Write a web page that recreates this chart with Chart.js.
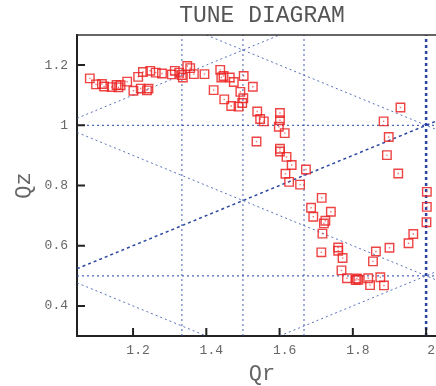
<!DOCTYPE html>
<html>
<head>
<meta charset="utf-8">
<script src="https://cdn.jsdelivr.net/npm/chart.js@4.4.1/dist/chart.umd.min.js"></script>
<style>
  html, body { margin: 0; padding: 0; background: #fff; overflow: hidden; }
  #wrap { width: 436px; height: 386px; }
</style>
</head>
<body>
<div id="wrap"><canvas id="tune"></canvas></div>
<script>
const qr = [1.082, 1.099, 1.115, 1.121, 1.142, 1.155, 1.160, 1.166, 1.184, 1.201,
            1.214, 1.221, 1.227, 1.238, 1.242, 1.247, 1.262, 1.279, 1.306, 1.314,
            1.326, 1.333, 1.336, 1.348, 1.356, 1.366, 1.395, 1.420, 1.438, 1.441,
            1.447, 1.449, 1.464, 1.468, 1.475, 1.488, 1.493, 1.498, 1.501, 1.502,
            1.527, 1.539, 1.547, 1.557, 1.601, 1.601, 1.598, 1.614, 1.537, 1.601,
            1.601, 1.619, 1.633, 1.616, 1.626, 1.672, 1.656, 1.884, 1.930, 1.898,
            1.893, 1.924, 1.715, 1.686, 1.692, 1.740, 1.725, 1.721, 1.717, 2.002,
            2.002, 2.001, 1.965, 1.952, 1.900, 1.863, 1.855, 1.714, 1.760, 1.760,
            1.772, 1.769, 1.784, 1.811, 1.815, 1.808, 1.842, 1.847, 1.875, 1.885];
const qz = [1.156, 1.136, 1.137, 1.129, 1.127, 1.134, 1.126, 1.133, 1.145, 1.115,
            1.161, 1.122, 1.177, 1.116, 1.122, 1.181, 1.175, 1.172, 1.169, 1.181,
            1.175, 1.167, 1.159, 1.197, 1.190, 1.170, 1.170, 1.117, 1.184, 1.159,
            1.164, 1.086, 1.159, 1.064, 1.144, 1.062, 1.111, 1.074, 1.090, 1.164,
            1.128, 1.046, 1.021, 1.013, 1.041, 1.017, 0.995, 0.974, 0.946, 0.922,
            0.913, 0.895, 0.868, 0.839, 0.812, 0.853, 0.803, 1.013, 1.059, 0.961,
            0.901, 0.840, 0.759, 0.726, 0.696, 0.713, 0.683, 0.674, 0.640, 0.779,
            0.729, 0.678, 0.639, 0.608, 0.593, 0.581, 0.548, 0.578, 0.594, 0.583,
            0.559, 0.518, 0.492, 0.491, 0.487, 0.486, 0.492, 0.469, 0.495, 0.468];

// resonance lines: end points [from, to]
const resQr = [[4/3, 4/3], [1.5, 1.5], [5/3, 5/3], [2, 2],
               [1.047, 2.03], [1.047, 2.03],
               [1.047, 2.03], [1.047, 2.03], [1.047, 1.6], [1.4, 2.03],
               [1.047, 1.4], [1.6, 2.03]];
const resQz = [[0.3, 1.3], [0.3, 1.3], [0.3, 1.3], [0.3, 1.3],
               [1.0, 1.0], [0.5, 0.5],
               [0.5235, 1.015], [0.9765, 0.485], [1.0235, 1.3], [1.3, 0.985],
               [0.4765, 0.3], [0.3, 0.515]];

const qrTicks = [1.2, 1.4, 1.6, 1.8, 2];
const qzTicks = [0.4, 0.6, 0.8, 1, 1.2];
const qrRange = [1.047, 2.027];
const qzRange = [0.3, 1.3];

const MONO = '"Liberation Mono", "DejaVu Sans Mono", monospace';

function lineStyle(i) {
  if (i === 3) return { color: '#2a44a0', width: 2.5, dash: [3, 3] };
  if (i < 3) return { color: 'rgba(45,75,170,0.9)', width: 1, dash: [2, 3] };
  if (i < 6) return { color: 'rgba(45,75,170,0.85)', width: 1.2, dash: [2, 3] };
  if (i === 6) return { color: '#2c48a0', width: 1.5, dash: [3, 3] };
  return { color: 'rgba(60,90,175,0.85)', width: 1, dash: [2, 3] };
}

const datasets = [];
datasets.push({
  data: qr.map((v, i) => ({ x: v, y: qz[i] })),
  pointStyle: 'rect', pointRadius: 6, pointBorderWidth: 1.4,
  pointBorderColor: 'rgba(235,35,35,0.85)', pointBackgroundColor: 'rgba(0,0,0,0)',
  showLine: false, order: 0
});
datasets.push({
  data: qr.map((v, i) => ({ x: v, y: qz[i] })),
  pointStyle: 'rect', pointRadius: 1, pointBorderWidth: 0,
  pointBackgroundColor: 'rgba(230,60,60,0.7)', showLine: false, order: 0
});
resQr.forEach((xs, i) => {
  const s = lineStyle(i);
  datasets.push({
    data: [{ x: xs[0], y: resQz[i][0] }, { x: xs[1], y: resQz[i][1] }],
    showLine: true, pointRadius: 0, borderColor: s.color, borderWidth: s.width,
    borderDash: s.dash, fill: false, order: 1
  });
});

// title, x title, top frame line and inward tick marks
const framePlugin = {
  id: 'frame',
  afterDraw(chart) {
    const { ctx, chartArea: a, scales: { x, y } } = chart;
    const cx = a.left + 185;
    ctx.save();
    ctx.fillStyle = '#555';
    ctx.textAlign = 'center';
    ctx.textBaseline = 'middle';
    ctx.font = '23px ' + MONO;
    ctx.fillText('TUNE DIAGRAM', cx, 16);
    ctx.fillStyle = '#666';
    ctx.font = '22px ' + MONO;
    ctx.fillText('Qr', cx, 374);

    ctx.strokeStyle = '#333';
    ctx.lineWidth = 1.5;
    ctx.beginPath();
    ctx.moveTo(a.left, a.top);
    ctx.lineTo(a.right, a.top);
    ctx.stroke();

    ctx.strokeStyle = '#222';
    ctx.lineWidth = 2;
    ctx.beginPath();
    x.ticks.forEach(t => {
      const px = x.getPixelForValue(t.value);
      ctx.moveTo(px, a.bottom); ctx.lineTo(px, a.bottom - 8);
    });
    y.ticks.forEach(t => {
      const py = y.getPixelForValue(t.value);
      ctx.moveTo(a.left, py); ctx.lineTo(a.left + 8, py);
    });
    ctx.stroke();
    ctx.restore();
  }
};

const fmt = v => String(+(+v).toFixed(1));

new Chart(document.getElementById('tune'), {
  type: 'scatter',
  data: { datasets },
  options: {
    animation: false,
    responsive: true,
    maintainAspectRatio: false,
    devicePixelRatio: 1,
    layout: { autoPadding: false, padding: { top: 35, right: 0, left: 0, bottom: 0 } },
    plugins: { legend: { display: false }, tooltip: { enabled: false } },
    scales: {
      x: {
        type: 'linear', min: qrRange[0], max: qrRange[1],
        afterBuildTicks: s => { s.ticks = qrTicks.map(v => ({ value: v })); },
        afterFit: s => { s.height = 50; s.paddingLeft = 0; s.paddingRight = 0; },
        grid: { drawOnChartArea: false, drawTicks: false },
        border: { color: '#222', width: 2 },
        ticks: { font: { family: MONO, size: 13 }, color: '#666', padding: 7, labelOffset: 5, callback: fmt }
      },
      y: {
        type: 'linear', min: qzRange[0], max: qzRange[1],
        afterBuildTicks: s => { s.ticks = qzTicks.map(v => ({ value: v })); },
        afterFit: s => { s.width = 77; s.paddingTop = 0; s.paddingBottom = 0; },
        grid: { drawOnChartArea: false, drawTicks: false },
        border: { color: '#222', width: 2 },
        ticks: { font: { family: MONO, size: 13 }, color: '#666', padding: 9, callback: fmt },
        title: { display: true, text: 'Qz', font: { family: MONO, size: 22 }, color: '#666', padding: { top: 11, bottom: 0 } }
      }
    }
  },
  plugins: [framePlugin]
});
</script>
</body>
</html>
